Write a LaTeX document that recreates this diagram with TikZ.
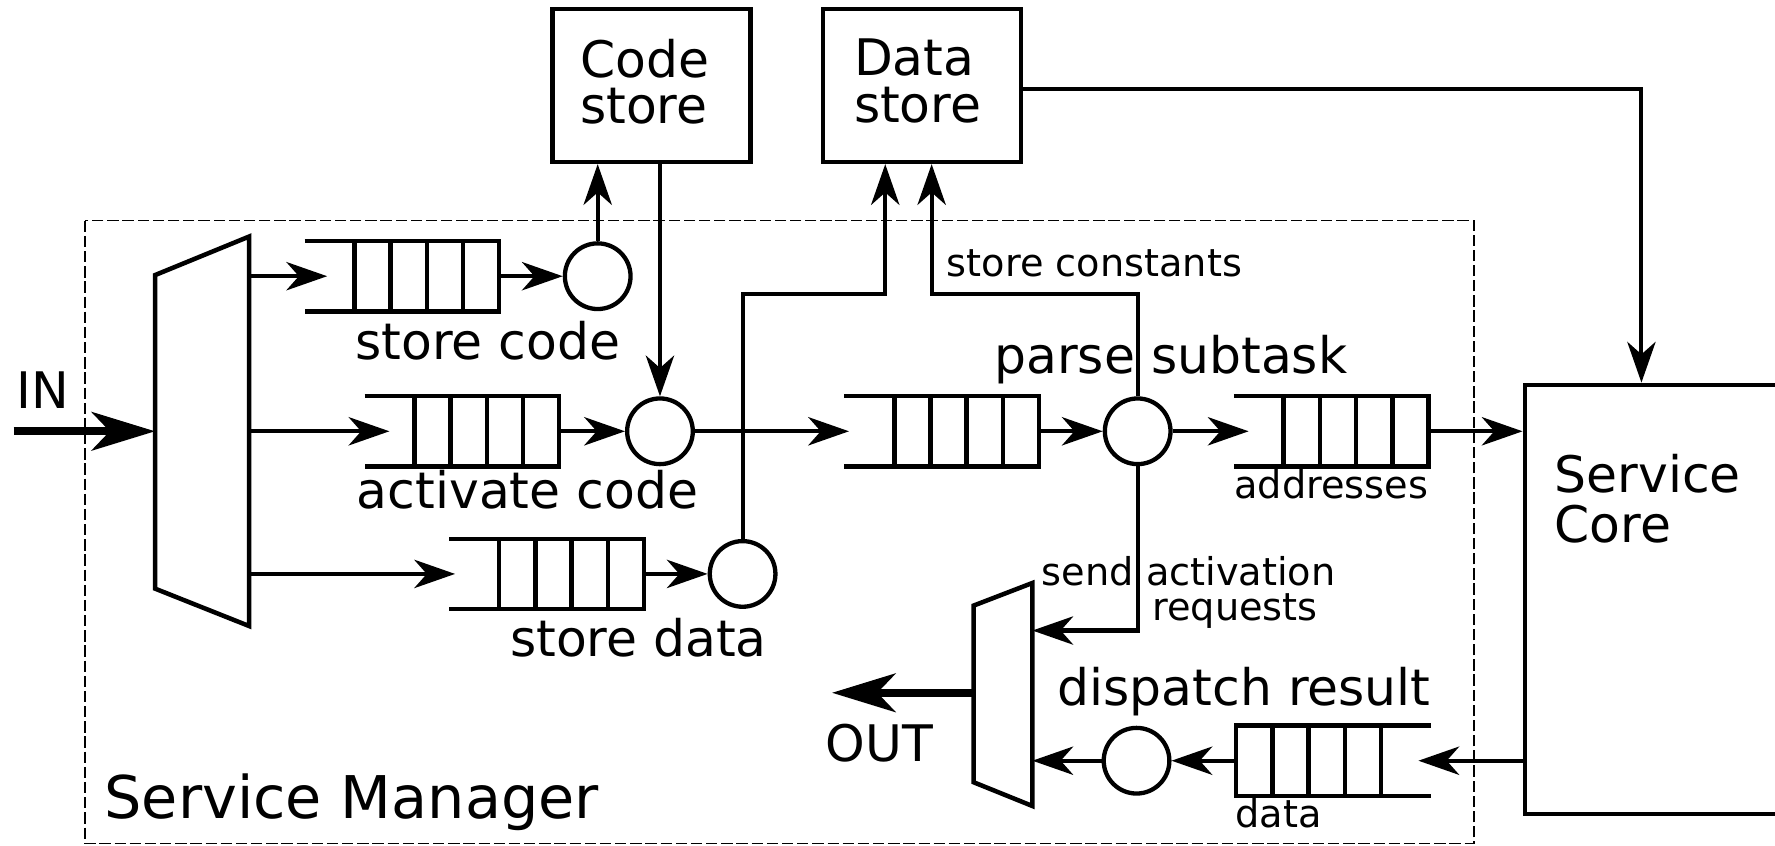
\documentclass[tikz,border=0pt]{standalone}
\usepackage{fontspec}
\setmainfont{DejaVu Sans}
\usetikzlibrary{arrows.meta}

\newcommand{\bigf}{\fontsize{22.25pt}{22pt}\selectfont}
\newcommand{\boxf}{\fontsize{22.25pt}{20.5pt}\selectfont}
\newcommand{\smallf}{\fontsize{16.9pt}{15.5pt}\selectfont}
\newcommand{\titlef}{\fontsize{26pt}{26pt}\selectfont}

% FIFO queue: #1 name, #2 centre x, #3 centre y, #4 = 1 slots at the right end, -1 slots at the left end
\newcommand{\fifo}[4]{%
  \node[qnode] (#1) at (#2,#3) {};
  \ifnum#4>0
    \draw[qline] (#1.north west) -- (#1.north east) -- (#1.south east) -- (#1.south west);
    \foreach \k in {1,...,4}
      \draw[qline] ([xshift=-\k*16pt]#1.north east) -- ([xshift=-\k*16pt]#1.south east);
  \else
    \draw[qline] (#1.north east) -- (#1.north west) -- (#1.south west) -- (#1.south east);
    \foreach \k in {1,...,4}
      \draw[qline] ([xshift=\k*16pt]#1.north west) -- ([xshift=\k*16pt]#1.south west);
  \fi}

\begin{document}
\begin{tikzpicture}[x=0.5pt,y=-0.5pt,
  wire/.style={line width=1.8pt},
  arr/.style={wire,-{Stealth[length=18pt,width=12.5pt,inset=5.5pt]}},
  bigarr/.style={line width=3.6pt,-{Stealth[length=28pt,width=17pt,inset=8pt]}},
  store/.style={draw,line width=2pt,minimum width=87.5pt,minimum height=67.5pt,inner sep=0pt},
  boxtext/.style={font=\boxf,align=left,inner sep=0pt,anchor=north west},
  proc/.style={circle,draw,line width=1.9pt,minimum size=29pt,inner sep=0pt},
  qnode/.style={minimum width=86pt,minimum height=31pt,inner sep=0pt,outer sep=0pt},
  qline/.style={line width=2pt},
  muxbox/.style={minimum width=#1,inner sep=0pt,outer sep=0pt},
  muxline/.style={line width=2pt,line join=miter},
  lbl/.style={font=\bigf,inner sep=0pt,anchor=base},
  slbl/.style={font=\smallf,inner sep=0pt,anchor=base},
]
\useasboundingbox (0,0) rectangle (1568,747);

% Service Manager boundary
\draw[line width=0.6pt,dash pattern=on 5pt off 1.7pt] (75,195) rectangle (1302,745);
\node[font=\titlef,inner sep=0pt,anchor=base west] (smlbl) at (92,723) {Service Manager};

% stores and core
\node[store] (code) at (575.5,75.5) {};
\node[boxtext] (codelbl) at (512,34) {Code\\store};
\node[store] (data) at (814.5,75.5) {};
\node[boxtext] (datalbl) at (754,34) {Data\\store};
\node[draw,line width=2pt,minimum width=127.5pt,minimum height=189.5pt,inner sep=0pt,
  anchor=north west] (core) at (1345,338) {};
\node[font=\bigf,align=left,inner sep=0pt,anchor=north west] (corelbl) at (1373,401) {Service\\Core};

% input demultiplexer
\node[muxbox=41.5pt,minimum height=172pt] (dmxin) at (178.5,381) {};
\draw[muxline] (dmxin.north east) -- (dmxin.south east) -- ([yshift=16.5pt]dmxin.south west)
  -- ([yshift=-17pt]dmxin.north west) -- cycle;

% output multiplexer
\node[muxbox=26pt,minimum height=98.5pt] (dmxout) at (886,613.5) {};
\draw[muxline] (dmxout.north east) -- (dmxout.south east) -- ([yshift=10.5pt]dmxout.south west)
  -- ([yshift=-10pt]dmxout.north west) -- cycle;

% queues
\fifo{q1}{355}{244}{1}
\fifo{q2}{408}{381}{1}
\fifo{q6}{483}{507}{1}
\fifo{q3}{832}{381}{1}
\fifo{q4}{1176}{381}{1}
\fifo{q5}{1178}{672}{-1}

% processing stages
\node[proc] (c1) at (528,244) {};
\node[proc] (c2) at (583,381) {};
\node[proc] (c5) at (656,507) {};
\node[proc] (c3) at (1005,381) {};
\node[proc] (c4) at (1004,672) {};

% routing helpers
\coordinate (inS) at (12,381);
\coordinate (outE) at (735,612);
\coordinate (rowA) at (0,260);
\coordinate (rowB) at (0,557);
\coordinate (rowC) at (0,612);
\coordinate (cx) at (1450,0);
\coordinate (dsL) at ([xshift=-16.25pt]data.south);
\coordinate (dsR) at ([xshift=4.25pt]data.south);

% input side
\draw[bigarr] (inS) -- (dmxin.west);
\draw[arr] (dmxin.east |- q1.west) -- ([xshift=10pt]q1.west);
\draw[arr] (dmxin.east |- q2.west) -- ([xshift=11pt]q2.west);
\draw[arr] (dmxin.east |- q6.west) -- ([xshift=2.5pt]q6.west);

\draw[arr] (q1.east) -- (c1.west);
\draw[arr] (c1.north) -- (c1.north |- code.south);
\draw[arr] (c2.north |- code.south) -- (c2.north);
\draw[arr] (q2.east) -- (c2.west);
\draw[arr] (q6.east) -- (c5.west);
\draw[arr] (c2.east) -- ([xshift=2pt]q3.west);
\draw[arr] (q3.east) -- (c3.west);
\draw[arr] (c3.east) -- ([xshift=6.5pt]q4.west);
\draw[arr] (q4.east) -- (core.west |- q4.east);

% writes into the data store
\draw[arr] (c5.north) |- (dsL |- rowA) -- (dsL);
\draw[arr] (c3.north) |- (dsR |- rowA) -- (dsR);

% data store feeds the core
\draw[arr] ([yshift=-1.75pt]data.east) -| (core.north -| cx);

% activation requests and results
\draw[arr] (c3.south) |- (dmxout.east |- rowB);
\draw[arr] (core.west |- q5.east) -- ([xshift=-5.5pt]q5.east);
\draw[arr] (q5.west) -- (c4.east);
\draw[arr] (c4.west) -- (dmxout.east |- c4.west);
\draw[bigarr] (dmxout.west |- rowC) -- (outE);

% labels
\node[lbl] (inlbl) at (38,361) {IN};
\node[lbl] (outlbl) at (777,673) {OUT};
\node[lbl] (l1) at (431,318) {store code};
\node[lbl] (l2) at (466,449) {activate code};
\node[lbl] (l3) at (564,580) {store data};
\node[lbl,anchor=base west] (l4) at (878,330) {parse subtask};
\node[lbl] (l5) at (1099,623) {dispatch result};
\node[slbl,anchor=base west] (l6) at (836,244) {store constants};
\node[slbl] (l7) at (1176,440) {addresses};
\node[slbl,anchor=base west] (l8) at (1091,731) {data};
\node[slbl,anchor=base west] (l9) at (920,517) {send activation};
\node[slbl] (l10) at (1091,548) {requests};
\end{tikzpicture}
\end{document}
